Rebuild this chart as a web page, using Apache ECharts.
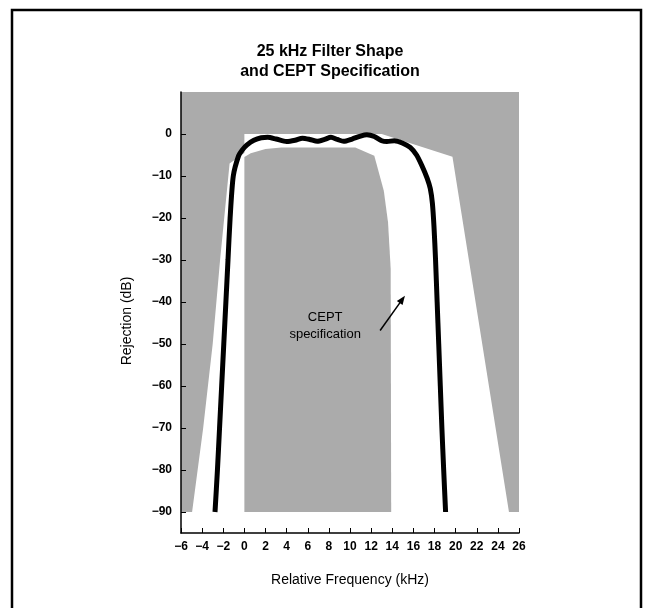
<!DOCTYPE html>
<html><head><meta charset="utf-8">
<script src="https://cdn.jsdelivr.net/npm/echarts@6/dist/echarts.min.js"></script>
<style>html,body{margin:0;padding:0;background:#fff}#c{width:646px;height:608px}</style>
</head><body><div id="c"></div>
<script>
// ---- data ----
const titleLines = ['25 kHz Filter Shape', 'and CEPT Specification'];
const xAxisName = 'Relative Frequency (kHz)';
const yAxisName = 'Rejection (dB)';
const yTickValues = [-90, -80, -70, -60, -50, -40, -30, -20, -10, 0];

// measured filter response (kHz, dB)
const filterFreq = [-2.78, -2.55, -2.35, -2.15, -1.95, -1.75, -1.55, -1.35, -1.05, -0.55, -0.2, 0.25, 0.9, 1.6, 2.2, 3.0, 4.0, 4.8, 5.5, 6.2, 6.9, 7.6, 8.2, 8.8, 9.4, 10.2, 11.0, 11.6, 12.3, 13.0, 13.5, 14.2, 15.0, 15.7, 16.3, 16.8, 17.3, 17.6, 17.8, 17.95, 18.1, 18.25, 18.4, 18.55, 18.7, 18.87, 19.05];
const filterRej  = [-90, -80, -70, -60, -50, -40, -30, -20, -10, -5.2, -3.8, -2.6, -1.5, -0.9, -0.8, -1.2, -1.8, -1.5, -1.0, -1.3, -1.75, -1.3, -0.8, -1.3, -1.75, -1.2, -0.5, -0.2, -0.6, -1.6, -1.8, -1.6, -2.2, -3.2, -5.0, -7.5, -10.5, -13, -16.5, -22, -30, -40, -50, -60, -70, -80, -90];

// CEPT specification: outer forbidden region (kHz, dB)
const maskOuterFreq = [-6, 26, 26, 25.05, 19.7, 13.0, 0, 0, -1.4, -2.3, -3.0, -3.9, -4.95, -6];
const maskOuterRej  = [10, 10, -90, -90, -5.4, 0, 0, -4.5, -7, -30, -50, -70, -90, -90];
// CEPT specification: inner (passband) region
const maskInnerFreq = [0, 0, 0.6, 2.0, 3.5, 10.5, 12.3, 13.2, 13.6, 13.85, 13.9];
const maskInnerRej  = [-90, -5.5, -4.6, -3.6, -3.2, -3.2, -5.2, -13.5, -21, -32, -90];

// annotation
const annoText = 'CEPT\nspecification';
const annoTextPos = [7.65, -45.6];
const arrowTail = [12.85, -46.8];
const arrowHead = [15.2, -38.5];

// ---- styles ----
const GRAY = '#ababab';
const FONT = '"Liberation Sans", Arial, Helvetica, sans-serif';

function polySeries(xs, ys) {
  return {
    type: 'custom', silent: true, z: 1, clip: false,
    data: [[0, 0]],
    renderItem: function (params, api) {
      return {
        type: 'polygon',
        shape: { points: xs.map(function (x, i) { return api.coord([x, ys[i]]); }) },
        style: { fill: GRAY, stroke: null }
      };
    }
  };
}
const minusFmt = function (v) { return String(v).replace('-', '\u2212'); };

const chart = echarts.init(document.getElementById('c'), null, { renderer: 'canvas' });
chart.setOption({
  animation: false,
  backgroundColor: '#fff',
  textStyle: { fontFamily: FONT },
  title: {
    text: titleLines.join('\n'),
    left: 325, top: 37, textAlign: 'center',
    textStyle: { fontSize: 16, fontWeight: 'bold', color: '#000', lineHeight: 20, fontFamily: FONT }
  },
  grid: { left: 181, right: 127, top: 92, bottom: 75, containLabel: false },
  xAxis: {
    type: 'value', min: -6, max: 26, interval: 2, z: 5,
    name: xAxisName, nameLocation: 'middle', nameGap: 40,
    nameTextStyle: { fontSize: 14, color: '#000', fontFamily: FONT },
    axisLine: { show: true, onZero: false, lineStyle: { color: '#000', width: 1.5 } },
    axisTick: { show: true, inside: true, length: 5, lineStyle: { color: '#000', width: 1 } },
    axisLabel: { color: '#000', fontSize: 12, fontWeight: 'bold', margin: 8, formatter: minusFmt, fontFamily: FONT },
    splitLine: { show: false }
  },
  yAxis: {
    type: 'value', min: -95, max: 10, z: 5,
    axisLine: { show: true, onZero: false, lineStyle: { color: '#000', width: 1.5 } },
    axisTick: { show: true, inside: true, length: 5, customValues: yTickValues, lineStyle: { color: '#000', width: 1 } },
    axisLabel: { color: '#000', fontSize: 12, fontWeight: 'bold', margin: 9, customValues: yTickValues, formatter: minusFmt, fontFamily: FONT },
    splitLine: { show: false }
  },
  graphic: [
    { type: 'rect', z: 100, shape: { x: 12, y: 10, width: 629, height: 640 },
      style: { fill: null, stroke: '#000', lineWidth: 2.5 } },
    { type: 'text', x: 127, y: 321, rotation: Math.PI / 2,
      style: { text: yAxisName, fill: '#000', fontSize: 14, fontFamily: FONT, align: 'center', verticalAlign: 'middle' } }
  ],
  series: [
    polySeries(maskOuterFreq, maskOuterRej),
    polySeries(maskInnerFreq, maskInnerRej),
    {
      type: 'line', z: 3, showSymbol: false, smooth: 0.25, silent: true,
      data: filterFreq.map(function (x, i) { return [x, filterRej[i]]; }),
      lineStyle: { color: '#000', width: 5 }
    },
    {
      type: 'custom', z: 4, silent: true, clip: false,
      data: [[0, 0]],
      renderItem: function (params, api) {
        const t = api.coord(annoTextPos), a = api.coord(arrowTail), b = api.coord(arrowHead);
        const ang = Math.atan2(b[1] - a[1], b[0] - a[0]);
        const L = 9, W = 3.5;
        const c = Math.cos(ang), s = Math.sin(ang);
        const p1 = [b[0] - L * c + W * s, b[1] - L * s - W * c];
        const p2 = [b[0] - L * c - W * s, b[1] - L * s + W * c];
        return {
          type: 'group', children: [
            { type: 'line', shape: { x1: a[0], y1: a[1], x2: b[0] - 6 * c, y2: b[1] - 6 * s }, style: { stroke: '#000', lineWidth: 1.5 } },
            { type: 'polygon', shape: { points: [b, p1, p2] }, style: { fill: '#000' } },
            { type: 'text', x: t[0], y: t[1], style: { text: annoText, fill: '#000', fontSize: 13, fontFamily: FONT, align: 'center', verticalAlign: 'middle', lineHeight: 17 } }
          ]
        };
      }
    }
  ]
});
</script></body></html>
